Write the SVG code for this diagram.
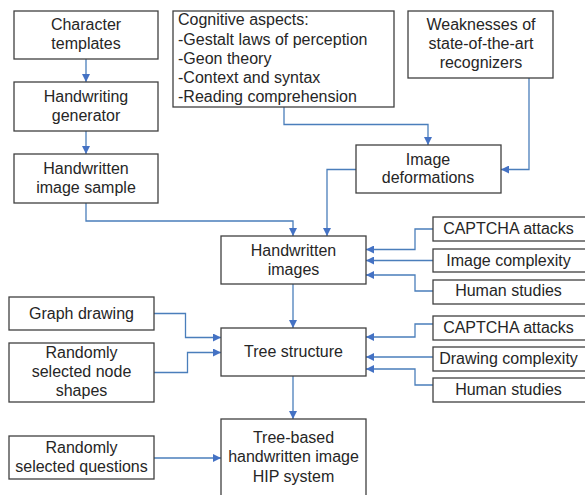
<svg xmlns="http://www.w3.org/2000/svg" width="585" height="495" viewBox="0 0 585 495">
<style>
.box{fill:#fff;stroke:#404040;stroke-width:1.3}
.t{font-family:"Liberation Sans",Arial,sans-serif;font-size:16px;fill:#262626;text-anchor:middle}
.tl{font-family:"Liberation Sans",Arial,sans-serif;font-size:16px;fill:#262626}
.c{fill:none;stroke:#4a7ebb;stroke-width:1.3;marker-end:url(#a)}
</style>
<defs>
<marker id="a" viewBox="0 0 10 10" refX="10" refY="5" markerWidth="8" markerHeight="8" markerUnits="userSpaceOnUse" orient="auto">
<path d="M0,0 L10,5 L0,10 z" fill="#4472c4"/>
</marker>
</defs>
<rect width="585" height="495" fill="#fff"/>
<g id="connectors">
<path class="c" d="M86,59 V82"/>
<path class="c" d="M86,131 V154"/>
<path class="c" d="M86,203 V221 H293 V236"/>
<path class="c" d="M284,107 V124.5 H428 V145"/>
<path class="c" d="M529,78 V169.5 H501"/>
<path class="c" d="M356,169.5 H327 V236"/>
<path class="c" d="M293,284 V328"/>
<path class="c" d="M293,376 V419"/>
<path class="c" d="M433,229 H415 V249.5 H366"/>
<path class="c" d="M433,260.5 H366"/>
<path class="c" d="M433,291 H415 V275 H366"/>
<path class="c" d="M433,324 H415 V337 H366"/>
<path class="c" d="M433,357 H366"/>
<path class="c" d="M433,385 H415 V369 H366"/>
<path class="c" d="M154,313.5 H185.5 V337.5 H221"/>
<path class="c" d="M154,372.5 H187.5 V352.5 H221"/>
<path class="c" d="M154,458 H221"/>
</g>
<g id="char-templates"><rect class="box" x="14" y="11" width="144" height="48"/><text class="t" x="86" y="30">Character</text><text class="t" x="86" y="49">templates</text></g>
<g id="hw-generator"><rect class="box" x="14" y="82" width="144" height="49"/><text class="t" x="86" y="102">Handwriting</text><text class="t" x="86" y="121">generator</text></g>
<g id="hw-sample"><rect class="box" x="14" y="154" width="144" height="49"/><text class="t" x="86" y="174">Handwritten</text><text class="t" x="86" y="193">image sample</text></g>
<g id="cognitive"><rect class="box" x="173" y="11" width="221" height="96"/>
<text class="tl" x="178" y="25">Cognitive aspects:</text>
<text class="tl" x="178" y="45">-Gestalt laws of perception</text>
<text class="tl" x="178" y="64">-Geon theory</text>
<text class="tl" x="178" y="83">-Context and syntax</text>
<text class="tl" x="178" y="102">-Reading comprehension</text></g>
<g id="weaknesses"><rect class="box" x="408" y="11" width="145" height="67"/><text class="t" x="481" y="30">Weaknesses of</text><text class="t" x="481" y="49">state-of-the-art</text><text class="t" x="481" y="68">recognizers</text></g>
<g id="image-deformations"><rect class="box" x="356" y="145" width="145" height="48"/><text class="t" x="428" y="165">Image</text><text class="t" x="428" y="183">deformations</text></g>
<g id="hw-images"><rect class="box" x="221" y="236" width="145" height="48"/><text class="t" x="293.5" y="256">Handwritten</text><text class="t" x="293.5" y="275">images</text></g>
<g id="tree-structure"><rect class="box" x="221" y="328" width="145" height="48"/><text class="t" x="293.5" y="357">Tree structure</text></g>
<g id="tree-based"><rect class="box" x="221" y="419" width="145" height="80"/><text class="t" x="293.5" y="443">Tree-based</text><text class="t" x="293.5" y="462">handwritten image</text><text class="t" x="293.5" y="482">HIP system</text></g>
<g id="graph-drawing"><rect class="box" x="9" y="297" width="145" height="33"/><text class="t" x="81.5" y="319">Graph drawing</text></g>
<g id="node-shapes"><rect class="box" x="9" y="343" width="145" height="59"/><text class="t" x="81.5" y="358">Randomly</text><text class="t" x="81.5" y="377">selected node</text><text class="t" x="81.5" y="396">shapes</text></g>
<g id="questions"><rect class="box" x="9" y="436" width="145" height="43"/><text class="t" x="81.5" y="453">Randomly</text><text class="t" x="81.5" y="472">selected questions</text></g>
<g id="captcha1"><rect class="box" x="433" y="217" width="160" height="24"/><text class="t" x="508.5" y="234">CAPTCHA attacks</text></g>
<g id="image-complexity"><rect class="box" x="433" y="249" width="160" height="23"/><text class="t" x="508.5" y="266">Image complexity</text></g>
<g id="human1"><rect class="box" x="433" y="280" width="160" height="24"/><text class="t" x="508.5" y="296">Human studies</text></g>
<g id="captcha2"><rect class="box" x="433" y="316" width="160" height="24"/><text class="t" x="508.5" y="333">CAPTCHA attacks</text></g>
<g id="drawing-complexity"><rect class="box" x="433" y="347" width="160" height="24"/><text class="t" x="508.5" y="364">Drawing complexity</text></g>
<g id="human2"><rect class="box" x="433" y="378" width="160" height="24"/><text class="t" x="508.5" y="395">Human studies</text></g>
</svg>
